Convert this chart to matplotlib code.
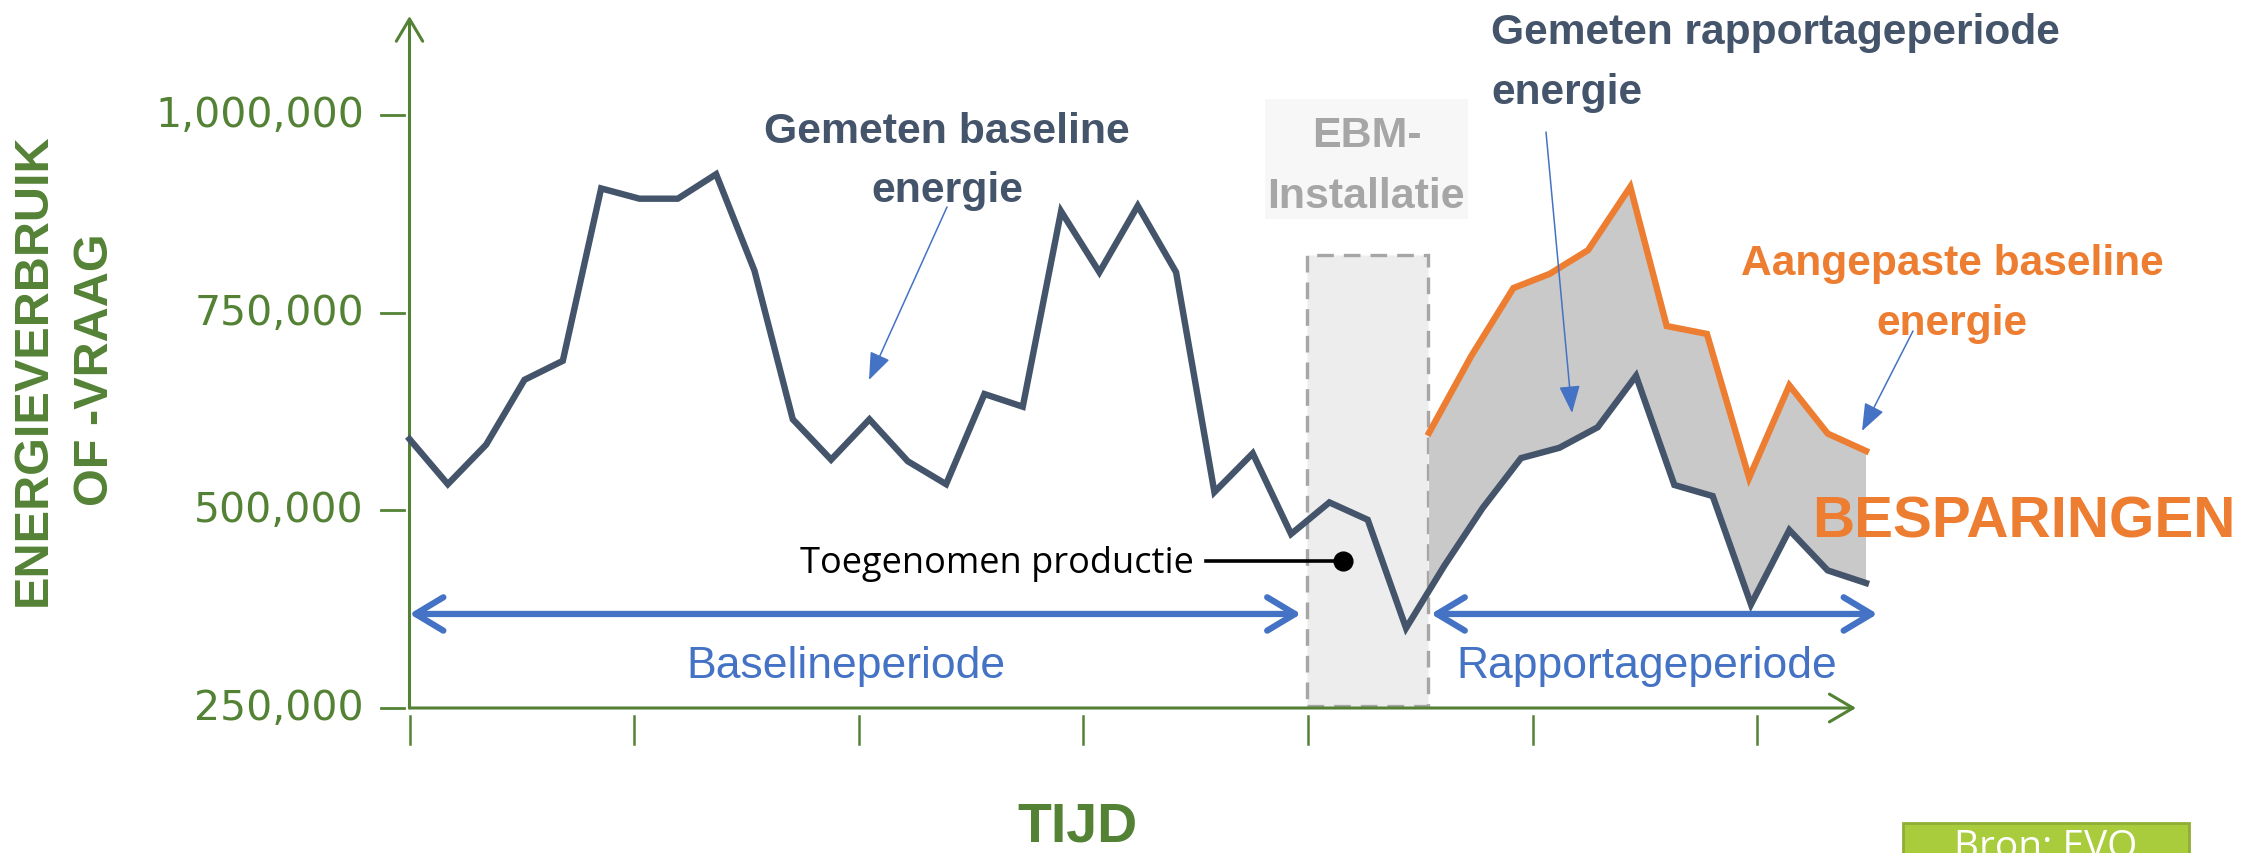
import numpy as np
import matplotlib
matplotlib.use("Agg")
import matplotlib.pyplot as plt
import matplotlib.transforms as mtransforms
from matplotlib.patches import Rectangle, FancyArrowPatch

# --- data ---
baseline_energy = [590000, 533000, 583000, 665000, 689000, 907000, 894000, 894000, 925000, 803000,
                   615000, 564000, 615000, 562000, 533000, 647000, 631000, 878000, 801000, 885000,
                   801000, 523000, 572000, 470000, 510000, 488000, 351000, 430000, 503000, 566000,
                   579000, 605000, 670000, 532000, 518000, 381000, 475000, 424000, 408000]
adjusted_time = [26.6, 27.7, 28.8, 29.75, 30.75, 31.85, 32.8, 33.85, 34.95, 36.0, 37.0, 38.0]
adjusted_energy = [598000, 695000, 781000, 799000, 829000, 909000, 733000, 723000, 541000,
                   658000, 597000, 575000]
y_ticks = [250000, 500000, 750000, 1000000]
x_tick_count = 7

# --- colours / fonts ---
GREEN = '#548235'
DARK = '#44546a'
ORANGE = '#ed7d31'
BLUE = '#4472c4'
GREY = '#a6a6a6'
BOLD = ['Liberation Sans', 'DejaVu Sans']

W, H = 2259, 854
def fx(x):
    return x / W
def fy(y):
    return 1 - y / H

fig = plt.figure(figsize=(W / 100, H / 100), dpi=100)
# plot area: index 0..38 on x, 250k..1.125M on y
ax = fig.add_axes([fx(409.5), fy(709), (1866 - 409.5) / W, (709 - 17) / H])
ax.set_xlim(0, 38)
ax.set_ylim(250000, 1125000)
ax.axis('off')

t_idx = np.arange(len(baseline_energy))
xstep = 5.86

# EBM installation box
ax.add_patch(Rectangle((23.42, 252500), 3.15, 570000, facecolor='#ededed', edgecolor=GREY,
                       lw=2.4, ls=(0, (5, 3)), zorder=1, clip_on=False))

# savings area between adjusted baseline and measured energy
start_val = np.interp(adjusted_time[0], t_idx, baseline_energy)
back_t = [t for t in t_idx if t > adjusted_time[0]][::-1]
poly_x = list(adjusted_time) + back_t + [adjusted_time[0]]
poly_y = list(adjusted_energy) + [baseline_energy[t] for t in back_t] + [start_val]
ax.fill(poly_x, poly_y, color='#c9c9c9', lw=0, zorder=2, clip_on=False)

ax.plot(t_idx, baseline_energy, color=DARK, lw=4.6, solid_joinstyle='miter', zorder=4, clip_on=False)
ax.plot(adjusted_time, adjusted_energy, color=ORANGE, lw=4.6, solid_joinstyle='miter', zorder=4,
        clip_on=False)

# axes with arrow heads
ax.annotate('', xy=(0, 1125000), xytext=(0, 250000), annotation_clip=False,
            arrowprops=dict(arrowstyle='->,head_length=1.6,head_width=0.95', mutation_scale=10,
                            lw=2.2, color=GREEN, shrinkA=0, shrinkB=0))
ax.annotate('', xy=(37.74, 250000), xytext=(0, 250000), annotation_clip=False,
            arrowprops=dict(arrowstyle='->,head_length=1.7,head_width=1.0', mutation_scale=10,
                            lw=2.2, color=GREEN, shrinkA=0, shrinkB=0))

# y ticks and labels
ytrans = mtransforms.blended_transform_factory(fig.transFigure, ax.transData)
for v in y_ticks:
    ax.plot([fx(381), fx(404)], [v, v], color=GREEN, lw=2, transform=ytrans, clip_on=False)
    ax.text(fx(364), v, f'{v:,}', transform=ytrans, ha='right', va='center',
            fontsize=29.5, color=GREEN, family='DejaVu Sans')

# x ticks
xtrans = mtransforms.blended_transform_factory(ax.transData, fig.transFigure)
for k in range(x_tick_count):
    ax.plot([k * xstep, k * xstep], [fy(717), fy(745)], color=GREEN, lw=1.8,
            transform=xtrans, clip_on=False)

# period double arrows
for x0, x1 in [(0, 23.26), (26.65, 38.3)]:
    ax.annotate('', xy=(x1, 368900), xytext=(x0, 368900), annotation_clip=False, zorder=5,
                arrowprops=dict(arrowstyle='<->,head_length=1.0,head_width=0.6', mutation_scale=20,
                                lw=4.5, color=BLUE, shrinkA=0, shrinkB=0,
                                capstyle='round', joinstyle='round'))

fig.text(fx(846), fy(678), 'Baselineperiode', ha='center', va='baseline', fontsize=32,
         color=BLUE, family=BOLD)
fig.text(fx(1647), fy(678), 'Rapportageperiode', ha='center', va='baseline', fontsize=32,
         color=BLUE, family=BOLD)

# axis titles
fig.text(fx(33), fy(370), 'ENERGIEVERBRUIK', rotation=90, ha='center', va='center',
         fontsize=35, fontweight='bold', color=GREEN, family=BOLD)
fig.text(fx(96), fy(370), 'OF -VRAAG', rotation=90, ha='center', va='center',
         fontsize=35, fontweight='bold', color=GREEN, family=BOLD)
fig.text(fx(1078), fy(842), 'TIJD', ha='center', va='baseline', fontsize=40,
         fontweight='bold', color=GREEN, family=BOLD)

# annotations
fig.text(fx(947), fy(143), 'Gemeten baseline', ha='center', va='baseline', fontsize=30.8,
         fontweight='bold', color=DARK, family=BOLD)
fig.text(fx(947), fy(202), 'energie', ha='center', va='baseline', fontsize=30.8,
         fontweight='bold', color=DARK, family=BOLD)

fig.add_artist(Rectangle((fx(1265), fy(220)), (1468 - 1265) / W, 120 / H,
                         transform=fig.transFigure, facecolor='#f7f7f7', edgecolor='none', zorder=0))
fig.text(fx(1367), fy(147), 'EBM-', ha='center', va='baseline', fontsize=31,
         fontweight='bold', color=GREY, family=BOLD)
fig.text(fx(1366), fy(208), 'Installatie', ha='center', va='baseline', fontsize=31,
         fontweight='bold', color=GREY, family=BOLD)

fig.text(fx(1491), fy(44), 'Gemeten rapportageperiode', ha='left', va='baseline', fontsize=30.6,
         fontweight='bold', color=DARK, family=BOLD)
fig.text(fx(1491), fy(104), 'energie', ha='left', va='baseline', fontsize=30.6,
         fontweight='bold', color=DARK, family=BOLD)

fig.text(fx(1952), fy(275), 'Aangepaste baseline', ha='center', va='baseline', fontsize=30.6,
         fontweight='bold', color=ORANGE, family=BOLD)
fig.text(fx(1952), fy(335), 'energie', ha='center', va='baseline', fontsize=30.6,
         fontweight='bold', color=ORANGE, family=BOLD)

fig.text(fx(1812), fy(538), 'BESPARINGEN', ha='left', va='baseline', fontsize=42,
         fontweight='bold', color=ORANGE, family=BOLD)

fig.text(fx(1194), fy(573), 'Toegenomen productie', ha='right', va='baseline', fontsize=26,
         color='black', family=['Open Sans', 'DejaVu Sans'])
fig.add_artist(plt.Line2D([fx(1206), fx(1343)], [fy(562), fy(562)], color='black', lw=2.6,
                          transform=fig.transFigure))
fig.add_artist(plt.Line2D([fx(1343)], [fy(562)], marker='o', ms=13.5, color='black',
                          transform=fig.transFigure))

# thin pointer arrows
for (x0, y0), (x1, y1) in [((947, 208), (869, 381)),
                           ((1546, 133), (1572, 414)),
                           ((1913, 332), (1862, 432))]:
    fig.add_artist(FancyArrowPatch(
        (fx(x0), fy(y0)), (fx(x1), fy(y1)), transform=fig.transFigure,
        arrowstyle='-|>,head_length=1.7,head_width=0.65', mutation_scale=10,
        lw=1.1, color=BLUE, shrinkA=0, shrinkB=0))

# source box (cut off by the bottom edge, as in the original slide)
fig.add_artist(Rectangle((fx(1903), fy(880)), (2189 - 1903) / W, (880 - 824) / H,
                         transform=fig.transFigure, facecolor='#a9cc3d', edgecolor='#8fae36',
                         lw=2, zorder=3))
fig.text(fx(2046), fy(829), 'Bron: EVO', ha='center', va='top', fontsize=28, color='white',
         family=['Open Sans', 'DejaVu Sans'], zorder=4)

fig.savefig('out.png', dpi=100)
